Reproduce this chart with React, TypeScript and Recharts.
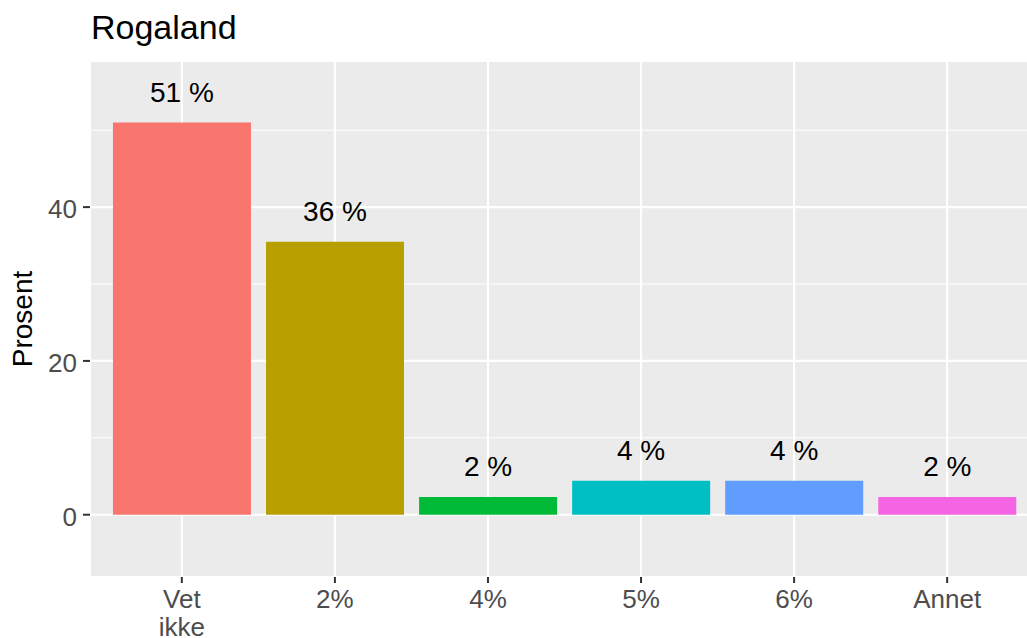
import { BarChart, Bar, XAxis, YAxis, CartesianGrid, Cell, LabelList } from 'recharts'

const categories = ['Vet\nikke', '2%', '4%', '5%', '6%', 'Annet']
const positions = [1, 2, 3, 4, 5, 6]
const prosent = [51.0, 35.5, 2.3, 4.4, 4.4, 2.3]
const colors = ['#F8766D', '#B79F00', '#00BA38', '#00BFC4', '#619CFF', '#F564E3']
const yTicks = [0, 20, 40]
const yMinor = [10, 30, 50]

const data = categories.map((name, i) => ({ pos: positions[i], name, value: prosent[i] }))

const font = '"Liberation Sans", Arial, Helvetica, sans-serif'

function XTick(props: any) {
  const { x, y, payload } = props
  const label = categories[Math.round(payload.value) - 1] ?? ''
  const lines = label.split('\n')
  return (
    <text x={x} y={y} textAnchor="middle" fill="#4D4D4D" fontSize={26} fontFamily={font}>
      {lines.map((line, i) => (
        <tspan key={i} x={x} dy={i === 0 ? 18.5 : 27.5}>
          {line}
        </tspan>
      ))}
    </text>
  )
}

export default function App() {
  return (
    <div
      style={{
        position: 'fixed',
        left: 0,
        top: 0,
        width: 1027,
        height: 638,
        overflow: 'hidden',
        background: '#fff',
        fontFamily: font,
      }}
    >
      <div
        style={{
          position: 'absolute',
          left: 91,
          top: 10,
          fontSize: 34,
          lineHeight: 1,
          color: '#000',
          whiteSpace: 'nowrap',
        }}
      >
        Rogaland
      </div>
      <BarChart
        width={1040}
        height={638}
        data={data}
        margin={{ top: 61, right: 1, bottom: 0, left: 0 }}
        barCategoryGap="5%"
      >
        <CartesianGrid fill="#EBEBEB" stroke="#fff" strokeWidth={2.1} />
        <CartesianGrid vertical={false} horizontalValues={yMinor} stroke="#fff" strokeWidth={1.1} />
        <XAxis
          dataKey="pos"
          type="number"
          domain={[0.4, 6.6]}
          ticks={positions}
          interval={0}
          height={61}
          axisLine={false}
          tickLine={{ stroke: '#333', strokeWidth: 2 }}
          tickSize={6}
          tickMargin={6.5}
          tick={<XTick />}
        />
        <YAxis
          type="number"
          domain={[-8.1, 59]}
          ticks={yTicks}
          width={90}
          axisLine={false}
          tickLine={{ stroke: '#333', strokeWidth: 2 }}
          tickSize={7}
          tickMargin={6}
          tick={{ fontSize: 26, fill: '#4D4D4D', dy: 2 }}
          label={{
            value: 'Prosent',
            angle: -90,
            position: 'insideLeft',
            offset: 22.5,
            style: { textAnchor: 'middle', fontSize: 28, fill: '#000' },
          }}
        />
        <Bar dataKey="value" isAnimationActive={false}>
          {data.map((d, i) => (
            <Cell key={d.name} fill={colors[i]} />
          ))}
          <LabelList
            dataKey="value"
            position="top"
            offset={21}
            fill="#000"
            fontSize={28}
            formatter={(v: any) => `${Math.round(Number(v))} %`}
          />
        </Bar>
      </BarChart>
    </div>
  )
}
